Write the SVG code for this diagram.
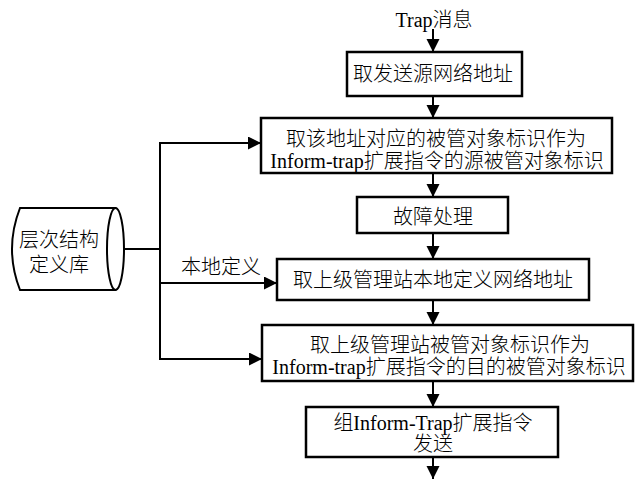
<svg xmlns="http://www.w3.org/2000/svg" width="644" height="482" viewBox="0 0 644 482">
  <style>
    .box { fill: #fff; stroke: #000; stroke-width: 2.5; }
    .cyl { fill: #fff; stroke: #000; stroke-width: 2; }
    .wire { fill: none; stroke: #000; stroke-width: 2; }
    .arrow { fill: none; stroke: #000; stroke-width: 2; marker-end: url(#head); }
    text { font-family: "Liberation Serif", "Noto Sans CJK SC", serif; font-size: 20px; font-weight: 300; fill: #000; text-anchor: middle; }
  </style>
  <defs>
    <marker id="head" markerUnits="userSpaceOnUse" markerWidth="14" markerHeight="14" refX="13" refY="6.5" orient="auto">
      <path d="M0,0 L13,6.5 L0,13 Z" fill="#000"/>
    </marker>
  </defs>

  <rect width="644" height="482" fill="#fff"/>

  <text id="start" x="434" y="27">Trap消息</text>

  <!-- connectors -->
  <g id="connectors">
    <line class="arrow" x1="433" y1="29" x2="433" y2="52"/>
    <line class="arrow" x1="433" y1="96" x2="433" y2="118"/>
    <line class="arrow" x1="433" y1="173" x2="433" y2="197"/>
    <line class="arrow" x1="433" y1="233" x2="433" y2="259"/>
    <line class="arrow" x1="433" y1="300" x2="433" y2="325"/>
    <line class="arrow" x1="433" y1="381" x2="433" y2="407"/>
    <line class="arrow" x1="433" y1="457" x2="433" y2="479"/>
    <line class="wire" x1="124" y1="249" x2="160" y2="249"/>
    <line class="wire" x1="160" y1="142" x2="160" y2="360"/>
    <line class="arrow" x1="159" y1="143" x2="261" y2="143"/>
    <line class="arrow" x1="159" y1="283" x2="277" y2="283"/>
    <line class="arrow" x1="159" y1="359" x2="262" y2="359"/>
    <text x="221" y="274">本地定义</text>
  </g>

  <!-- hierarchy definition store -->
  <g id="store">
    <path class="cyl" d="M20,208 Q4,249 20,290 H115.5 V208 Z"/>
    <ellipse class="cyl" cx="115.5" cy="249" rx="8.5" ry="41"/>
    <text x="59" y="247">层次结构</text>
    <text x="59" y="272">定义库</text>
  </g>

  <g id="n1">
    <rect class="box" x="347" y="52" width="175" height="44"/>
    <text x="433" y="81">取发送源网络地址</text>
  </g>

  <g id="n2">
    <rect class="box" x="261" y="118" width="351" height="55"/>
    <text x="436" y="146">取该地址对应的被管对象标识作为</text>
    <text x="437" y="168">Inform-trap扩展指令的源被管对象标识</text>
  </g>

  <g id="n3">
    <rect class="box" x="357" y="197" width="151" height="36"/>
    <text x="433" y="224">故障处理</text>
  </g>

  <g id="n4">
    <rect class="box" x="277" y="259" width="312" height="41"/>
    <text x="433" y="287">取上级管理站本地定义网络地址</text>
  </g>

  <g id="n5">
    <rect class="box" x="262" y="325" width="371" height="56"/>
    <text x="450" y="352">取上级管理站被管对象标识作为</text>
    <text x="449" y="374">Inform-trap扩展指令的目的被管对象标识</text>
  </g>

  <g id="n6">
    <rect class="box" x="306" y="407" width="252" height="50"/>
    <text x="433" y="430">组Inform-Trap扩展指令</text>
    <text x="433" y="451">发送</text>
  </g>
</svg>
